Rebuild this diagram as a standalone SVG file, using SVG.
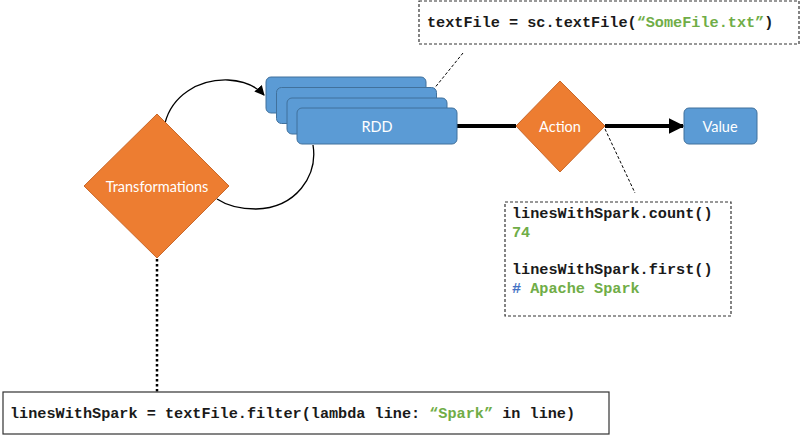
<svg xmlns="http://www.w3.org/2000/svg" width="800" height="436" viewBox="0 0 800 436">
<style>
.rdd{fill:#5B9BD5;stroke:#41719C;stroke-width:1}
.dia{fill:#ED7D31;stroke:#C9682A;stroke-width:1}
.lbl{font-family:Lato,"Open Sans","Liberation Sans",sans-serif;font-size:14.5px;fill:#ffffff;text-anchor:middle;dominant-baseline:central}
.code{font-family:"Liberation Mono","Courier New",monospace;font-weight:bold;font-size:15.2px;fill:#1a1a1a}
.g{fill:#70AD47}
.b{fill:#4472C4}
.dbox{fill:#ffffff;stroke:#333333;stroke-width:1.2;stroke-dasharray:3 2}
.sbox{fill:#ffffff;stroke:#333333;stroke-width:1.2}
</style>
<defs>
<marker id="ah" viewBox="0 0 10 10" refX="9" refY="5" markerWidth="10" markerHeight="10" markerUnits="userSpaceOnUse" orient="auto">
<path d="M0,0 L10,5 L0,10 z" fill="#000"/>
</marker>
<marker id="ahb" viewBox="0 0 10 10" refX="9" refY="5" markerWidth="4" markerHeight="4" orient="auto">
<path d="M0,0 L10,5 L0,10 z" fill="#000"/>
</marker>
</defs>

<g id="connectors" fill="none">
<path d="M165,123 C172,96 198,79 228,80 C245,81 256,86 264,95" stroke="#000" stroke-width="1.3" marker-end="url(#ah)"/>
<path d="M313,145 C318,176 296,208 256,209 C238,209 226,205 217,199" stroke="#000" stroke-width="1.3"/>
<line x1="457" y1="126" x2="516" y2="126" stroke="#000" stroke-width="4"/>
<line x1="605" y1="126" x2="683" y2="126" stroke="#000" stroke-width="4" marker-end="url(#ahb)"/>
<line x1="463" y1="53" x2="433" y2="90" stroke="#000" stroke-width="1" stroke-dasharray="3 2"/>
<line x1="605" y1="129" x2="635" y2="193" stroke="#000" stroke-width="1" stroke-dasharray="3 2"/>
<line x1="157" y1="259" x2="157" y2="392" stroke="#000" stroke-width="2.5" stroke-dasharray="2.5 2.5"/>
</g>

<g id="rdd">
<rect class="rdd" x="266" y="77" width="160" height="36" rx="5"/>
<rect class="rdd" x="276.5" y="87.5" width="160" height="36" rx="5"/>
<rect class="rdd" x="287" y="98" width="160" height="36" rx="5"/>
<rect class="rdd" x="297" y="108" width="160" height="36" rx="5"/>
<text class="lbl" x="377" y="126">RDD</text>
</g>

<g id="transformations">
<polygon class="dia" points="157,114 229,186 157,258 84,186"/>
<text class="lbl" x="157" y="186">Transformations</text>
</g>

<g id="action">
<polygon class="dia" points="560,81 605,126 560,172 516,126"/>
<text class="lbl" x="560" y="126">Action</text>
</g>

<g id="value">
<rect class="rdd" x="684" y="108" width="73" height="36" rx="5"/>
<text class="lbl" x="720" y="126">Value</text>
</g>

<g id="textfile-note">
<rect class="dbox" x="419" y="1" width="380" height="43"/>
<text class="code" x="427" y="27">textFile = sc.textFile(<tspan class="g">“SomeFile.txt”</tspan>)</text>
</g>

<g id="action-note">
<rect class="dbox" x="505" y="202" width="226" height="114"/>
<text class="code" x="512" y="218">linesWithSpark.count()</text>
<text class="code g" x="512" y="237">74</text>
<text class="code" x="512" y="274">linesWithSpark.first()</text>
<text class="code" x="512" y="293"><tspan class="b">#</tspan><tspan class="g"> Apache Spark</tspan></text>
</g>

<g id="filter-note">
<rect class="sbox" x="3" y="392" width="606" height="42"/>
<text class="code" x="10" y="418">linesWithSpark = textFile.filter(lambda line: <tspan class="g">“Spark”</tspan> in line)</text>
</g>
</svg>
